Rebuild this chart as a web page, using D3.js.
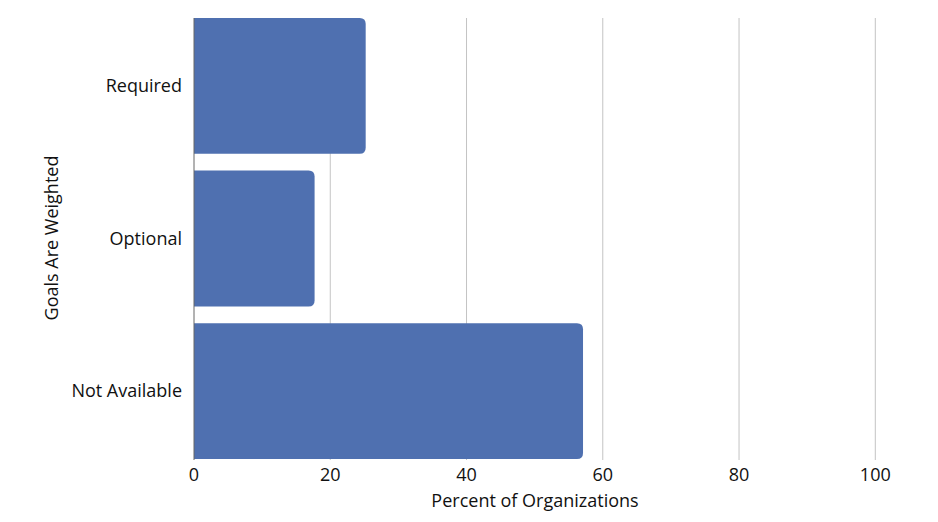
<!DOCTYPE html>
<html>
<head>
<meta charset="utf-8">
<script src="https://cdn.jsdelivr.net/npm/d3@7"></script>
<style>
  body { margin: 0; background: #fff; }
  text { font-family: "Open Sans", "Noto Sans", sans-serif; fill: #111; }
</style>
</head>
<body>
<script>
var categories = ["Required", "Optional", "Not Available"];
var values = [25.2, 17.7, 57.1];
var xTicks = [0, 20, 40, 60, 80, 100];

var width = 938, height = 522;
var margin = {top: 18, right: 63, bottom: 63, left: 194};
var innerW = width - margin.left - margin.right;
var innerH = height - margin.top - margin.bottom;

var svg = d3.select("body").append("svg")
    .attr("width", width)
    .attr("height", height);

var g = svg.append("g")
    .attr("transform", "translate(" + margin.left + "," + margin.top + ")");

var xScale = d3.scaleLinear().domain([0, 100]).range([0, 681.3]);
var yScale = d3.scaleBand().domain(categories).range([0, innerH])
    .paddingInner(0.11).paddingOuter(0);

//Gridlines
g.selectAll(".grid").data(xTicks.slice(1)).enter().append("line")
    .attr("x1", function(d) { return xScale(d); })
    .attr("x2", function(d) { return xScale(d); })
    .attr("y1", 0).attr("y2", innerH + 1)
    .attr("stroke", "#c4c4c4").attr("stroke-width", 1);

//Bars with rounded right end
var r = 6;
g.selectAll(".bar").data(categories).enter().append("path")
    .attr("fill", "#4f70b0")
    .attr("d", function(d, i) {
        var y0 = yScale(d), h = yScale.bandwidth(), w = xScale(values[i]);
        return "M0," + y0 + "H" + (w - r) + "Q" + w + "," + y0 + " " + w + "," + (y0 + r)
            + "V" + (y0 + h - r) + "Q" + w + "," + (y0 + h) + " " + (w - r) + "," + (y0 + h)
            + "H0Z";
    });

//Zero line
g.append("line").attr("x1", 0).attr("x2", 0).attr("y1", 0).attr("y2", innerH + 1)
    .attr("stroke", "#666").attr("stroke-width", 1);

//X tick labels
g.selectAll(".xt").data(xTicks).enter().append("text")
    .attr("x", function(d) { return xScale(d); })
    .attr("y", innerH + 22)
    .attr("text-anchor", "middle")
    .style("font-size", "18px")
    .text(function(d) { return d; });

//Y labels
g.selectAll(".yt").data(categories).enter().append("text")
    .attr("x", -12)
    .attr("y", function(d) { return yScale(d) + yScale.bandwidth() / 2; })
    .attr("dy", "0.35em")
    .attr("text-anchor", "end")
    .style("font-size", "18px")
    .text(function(d) { return d; });

//Axis titles
svg.append("text")
    .attr("x", 535).attr("y", 507)
    .attr("text-anchor", "middle")
    .style("font-size", "18px")
    .text("Percent of Organizations");

svg.append("text")
    .attr("transform", "translate(58,238) rotate(-90)")
    .attr("text-anchor", "middle")
    .style("font-size", "18px")
    .text("Goals Are Weighted");
</script>
</body>
</html>
